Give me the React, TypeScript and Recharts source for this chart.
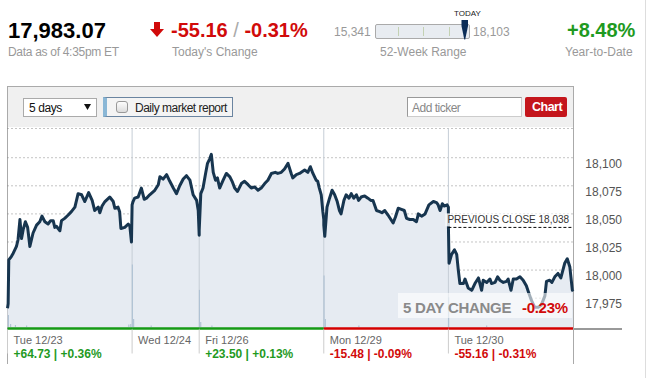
import { ComposedChart, Area, Line, Bar, XAxis, YAxis, CartesianGrid, ReferenceLine } from 'recharts';

const FONT = 'Arial, "Liberation Sans", Helvetica, sans-serif';
const GREEN = '#1f9a1f';
const RED = '#d10a0a';
const GREY = '#999';

// session days (minutes of trading per day)
const dayLabels = ['Tue 12/23', 'Wed 12/24', 'Fri 12/26', 'Mon 12/29', 'Tue 12/30'];
const dayChanges = ['+64.73 | +0.36%', '', '+23.50 | +0.13%', '-15.48 | -0.09%', '-55.16 | -0.31%'];
const dayUp = [true, true, true, false, false];
const dayMinutes = [390, 210, 390, 390, 390];

const priceTicks = [17975, 18000, 18025, 18050, 18075, 18100];
const priceDomain: [number, number] = [17948, 18126];
const previousClose = 18038;

// [minutes after open, index level]
const tue1223: [number, number][] = [
  [0, 17966], [2, 17970], [4, 18009], [12, 18012], [18, 18015], [28, 18021], [33, 18027], [39, 18045],
  [44, 18028], [49, 18036], [56, 18043], [63, 18038], [70, 18021], [80, 18033], [91, 18040], [101, 18043],
  [108, 18048], [117, 18043], [127, 18041], [135, 18044], [143, 18044], [148, 18038], [153, 18039], [164, 18035],
  [169, 18044], [179, 18046], [190, 18049], [200, 18052], [211, 18056], [221, 18068], [232, 18067], [242, 18061],
  [254, 18069], [265, 18062], [273, 18053], [284, 18056], [289, 18051], [296, 18057], [305, 18061], [320, 18065],
  [331, 18061], [336, 18055], [346, 18056], [351, 18052], [355, 18037], [367, 18038], [378, 18041], [383, 18039],
  [388, 18025],
];
const wed1224: [number, number][] = [
  [0, 18058], [3, 18061], [8, 18064], [19, 18065], [29, 18073], [38, 18063], [45, 18064], [55, 18067],
  [71, 18071], [82, 18076], [87, 18083], [97, 18081], [108, 18085], [118, 18079], [129, 18073], [139, 18068],
  [149, 18075], [160, 18081], [170, 18084], [181, 18080], [191, 18067], [202, 18062], [207, 18053], [210, 18031],
];
const fri1226: [number, number][] = [
  [0, 18035], [5, 18068], [12, 18073], [20, 18086], [26, 18095], [33, 18099], [38, 18103], [44, 18087],
  [51, 18080], [57, 18082], [64, 18073], [75, 18080], [85, 18086], [96, 18083], [103, 18079], [111, 18073],
  [120, 18070], [132, 18077], [142, 18079], [153, 18076], [163, 18073], [174, 18074], [184, 18071], [194, 18073],
  [205, 18077], [215, 18080], [226, 18086], [238, 18087], [246, 18086], [257, 18087], [267, 18090], [278, 18095],
  [288, 18086], [293, 18082], [304, 18085], [314, 18086], [330, 18089], [340, 18087], [348, 18092], [356, 18086],
  [366, 18080], [371, 18079], [376, 18073], [382, 18067], [387, 18052], [390, 18045],
];
const mon1229: [number, number][] = [
  [0, 18040], [3, 18030], [10, 18056], [18, 18064], [26, 18071], [34, 18067], [42, 18061], [49, 18053],
  [54, 18050], [63, 18062], [70, 18067], [79, 18064], [86, 18068], [94, 18064], [102, 18067], [109, 18062],
  [117, 18065], [128, 18066], [138, 18064], [147, 18062], [154, 18062], [159, 18058], [165, 18053], [175, 18052],
  [182, 18051], [191, 18053], [201, 18049], [210, 18045], [217, 18042], [224, 18047], [233, 18055], [243, 18054],
  [252, 18053], [259, 18046], [269, 18045], [280, 18045], [290, 18043], [296, 18050], [306, 18048], [317, 18050],
  [329, 18058], [343, 18061], [353, 18060], [358, 18058], [364, 18053], [371, 18059], [377, 18057], [386, 18058],
  [390, 18056],
];
const tue1230: [number, number][] = [
  [0, 18040], [2, 18006], [10, 18014], [19, 18018], [26, 18014], [31, 18000], [36, 17988], [47, 17988],
  [52, 17992], [62, 17984], [73, 17982], [83, 17988], [94, 17993], [104, 17982], [109, 17991], [120, 17989],
  [130, 17992], [135, 17988], [146, 17989], [154, 17994], [161, 17991], [172, 17989], [182, 17990], [187, 17992],
  [196, 17982], [203, 17992], [213, 17992], [224, 17994], [234, 17991], [244, 17986], [250, 17981], [260, 17973],
  [270, 17967], [281, 17967], [291, 17969], [302, 17977], [307, 17990], [317, 17991], [324, 17989], [333, 17994],
  [343, 17997], [352, 17993], [364, 18006], [372, 18010], [380, 18003], [388, 17982], [390, 17983],
];
const dayPrices = [tue1223, wed1224, fri1226, mon1229, tue1230];

// [session minute, volume]
const volumeBars: [number, number][] = [
  [3, 6], [10, 1.5], [25, 1], [60, 0.8], [380, 1.2], [386, 1.5], [391, 31.5], [395, 4], [450, 0.8],
  [601, 18.7], [605, 2.5], [640, 0.8], [991, 26], [995, 4], [1100, 0.8], [1381, 15], [1500, 0.8],
];

const dayStarts = dayMinutes.map((_, i) => dayMinutes.slice(0, i).reduce((a, b) => a + b, 0));
const sessionEnd = dayMinutes.reduce((a, b) => a + b, 0);

const priceData = dayPrices.flatMap((day, i) => day.map(([m, p]) => ({ t: dayStarts[i] + m, price: p })));
const volumeData = volumeBars.map(([t, v]) => ({ t, vol: v }));

const CHART_W = 647;
const CHART_H = 245;
const MARGIN = { top: 8.5, right: 14, bottom: 0, left: 7.5 };

const PriceTick = ({ y, payload }: any) => (
  <text x={622} y={y + 10} textAnchor="end" fontSize={12} fill="#555" fontFamily={FONT}>
    {payload.value.toLocaleString('en-US')}
  </text>
);

const DayTick = ({ x, y, payload }: any) => {
  const i = dayStarts.indexOf(payload.value);
  if (i < 0) return null;
  return (
    <g fontFamily={FONT}>
      <line x1={x} x2={x} y1={y + 1} y2={y + 25} stroke="#ccc" />
      <text x={x + 6} y={y + 15} fontSize={11} fill="#666">{dayLabels[i]}</text>
      <text x={x + 6} y={y + 29.5} fontSize={12} fontWeight="bold" fill={dayUp[i] ? GREEN : RED}>
        {dayChanges[i]}
      </text>
    </g>
  );
};

const PrevCloseLabel = ({ viewBox }: any) => {
  if (!viewBox) return null;
  const { x, y, width } = viewBox;
  return (
    <g>
      <rect x={x - 3} y={y - 14} width={width} height={13} fill="#fff" fillOpacity={0.8} />
      <text x={x - 1} y={y - 4} fontSize={10} fill="#333" fontFamily={FONT}>
        {`PREVIOUS CLOSE ${previousClose.toLocaleString('en-US')}`}
      </text>
    </g>
  );
};

const txt = (left: number, top: number, size: number, color: string, extra: any = {}) => ({
  position: 'absolute' as const,
  left,
  top,
  fontSize: size,
  color,
  lineHeight: 1,
  whiteSpace: 'nowrap' as const,
  ...extra,
});

export default function App() {
  return (
    <div style={{ position: 'absolute', left: 0, top: 0, width: 647, height: 378, background: '#fff', fontFamily: FONT, overflow: 'hidden' }}>
      {/* header */}
      <div style={txt(8, 20.4, 22, '#000', { fontWeight: 'bold' })}>17,983.07</div>
      <div style={txt(8, 45.5, 12, GREY, { letterSpacing: -0.3 })}>Data as of 4:35pm ET</div>
      <svg style={{ position: 'absolute', left: 150, top: 22 }} width={14} height={16}>
        <polygon points="4,0 10,0 10,7 14,7 7,15 0,7 4,7" fill={RED} />
      </svg>
      <div style={txt(171, 19.8, 20, RED, { fontWeight: 'bold' })}>
        -55.16<span style={{ color: '#aaa', fontWeight: 'normal' }}> / </span>-0.31%
      </div>
      <div style={txt(172, 45.5, 12, GREY)}>Today's Change</div>

      <div style={txt(454, 9.7, 8, '#222')}>TODAY</div>
      <div style={txt(334, 25.5, 12, GREY)}>15,341</div>
      <div style={{ position: 'absolute', left: 375, top: 24, width: 95, height: 15, boxSizing: 'border-box', border: '1px solid #aaa', borderRadius: 2, background: '#e8ecf1' }} />
      {[398, 423, 449].map((l) => (
        <div key={l} style={{ position: 'absolute', left: l, top: 27, width: 1, height: 9, background: '#c3d1b3' }} />
      ))}
      <svg style={{ position: 'absolute', left: 461, top: 20 }} width={8} height={20}>
        <polygon points="0.5,0 7,0 7,6 4.2,19.5 3.3,19.5 0.5,6" fill="#0c2d57" />
      </svg>
      <div style={txt(473, 25.5, 12, GREY)}>18,103</div>
      <div style={txt(380, 45.5, 12, GREY)}>52-Week Range</div>

      <div style={txt(567, 20.4, 20, GREEN, { fontWeight: 'bold' })}>+8.48%</div>
      <div style={txt(565, 45.5, 12, GREY)}>Year-to-Date</div>
      <div style={{ position: 'absolute', left: 645, top: 0, width: 1, height: 378, background: '#ddd' }} />

      {/* panel */}
      <div style={{ position: 'absolute', left: 7, top: 86, width: 567, height: 278, boxSizing: 'border-box', border: '1px solid #aaa', borderBottom: 'none' }} />
      <div style={{ position: 'absolute', left: 8, top: 87, width: 565, height: 40, background: '#f0f0f0' }} />
      <div style={{ position: 'absolute', left: 23, top: 98, width: 74, height: 19, boxSizing: 'border-box', border: '1px solid #aaa', background: '#fff' }}>
        <span style={txt(5, 3, 12, '#111', { letterSpacing: -0.4 })}>5 days</span>
        <svg style={{ position: 'absolute', left: 60, top: 5 }} width={7} height={7}>
          <polygon points="0,0 7,0 3.5,6" fill="#111" />
        </svg>
      </div>
      <div style={{ position: 'absolute', left: 103, top: 97, width: 130, height: 20, boxSizing: 'border-box', border: '1px solid #6a84a0', borderLeft: '4px solid #8ab7d6', background: '#f4f4f4' }}>
        <div style={{ position: 'absolute', left: 9, top: 3, width: 12, height: 12, boxSizing: 'border-box', border: '1px solid #999', borderRadius: 3, background: 'linear-gradient(#fdfdfd, #dcdcdc)' }} />
        <span style={txt(28, 4, 12, '#222', { letterSpacing: -0.5 })}>Daily market report</span>
      </div>
      <div style={{ position: 'absolute', left: 407, top: 97, width: 115, height: 20, boxSizing: 'border-box', border: '1px solid #999', borderRightColor: '#ccc', borderBottomColor: '#ccc', background: '#fff' }}>
        <span style={txt(4, 4, 12, '#888', { letterSpacing: -0.5 })}>Add ticker</span>
      </div>
      <div style={{ position: 'absolute', left: 525, top: 97, width: 42, height: 20, borderRadius: 2, background: '#c4161c' }}>
        <span style={txt(7, 3.5, 12.5, '#fff', { fontWeight: 'bold', letterSpacing: -0.5 })}>Chart</span>
      </div>

      {/* price chart */}
      <div style={{ position: 'absolute', left: 0, top: 120 }}>
        <ComposedChart width={CHART_W} height={CHART_H} data={priceData} margin={MARGIN}>
          <CartesianGrid yAxisId="price" horizontal vertical={false} stroke="#888" strokeDasharray="1 3" />
          <XAxis
            dataKey="t"
            type="number"
            domain={[0, sessionEnd]}
            ticks={dayStarts}
            interval={0}
            axisLine={false}
            tickLine={false}
            tickSize={0}
            tickMargin={0}
            height={36.5}
            tick={<DayTick />}
          />
          <YAxis
            yAxisId="price"
            orientation="right"
            width={60}
            domain={priceDomain}
            allowDataOverflow
            ticks={priceTicks}
            axisLine={false}
            tickLine={false}
            tick={<PriceTick />}
          />
          <Area
            yAxisId="price"
            type="linear"
            dataKey="price"
            stroke="none"
            fill="#e6ebf2"
            fillOpacity={1}
            isAnimationActive={false}
          />
          {dayStarts.slice(1).map((s) => (
            <ReferenceLine key={s} yAxisId="price" x={s} stroke="#c5cdd6" />
          ))}
          <Line
            yAxisId="price"
            type="linear"
            dataKey="price"
            stroke="#17354f"
            strokeWidth={3}
            strokeLinejoin="round"
            dot={false}
            isAnimationActive={false}
          />
          <ReferenceLine
            yAxisId="price"
            segment={[{ x: dayStarts[4], y: previousClose }, { x: sessionEnd, y: previousClose }]}
            stroke="#000"
            strokeDasharray="3 2"
            label={<PrevCloseLabel />}
          />
          {dayStarts.map((s, i) => (
            <ReferenceLine
              key={`b${s}`}
              yAxisId="price"
              segment={[{ x: s, y: priceDomain[0] }, { x: s + dayMinutes[i], y: priceDomain[0] }]}
              stroke={dayUp[i] ? '#159a15' : '#d40000'}
              strokeWidth={2.5}
            />
          ))}
        </ComposedChart>
      </div>

      {/* volume overlay */}
      <div style={{ position: 'absolute', left: 0, top: 120, pointerEvents: 'none' }}>
        <ComposedChart
          width={CHART_W}
          height={CHART_H}
          data={volumeData}
          margin={{ top: MARGIN.top, right: MARGIN.right + 60, bottom: 36.5 + 1.5, left: MARGIN.left }}
        >
          <XAxis dataKey="t" type="number" domain={[0, sessionEnd]} hide />
          <YAxis domain={[0, 100]} hide />
          <Bar dataKey="vol" fill="#b0c2d4" barSize={2} isAnimationActive={false} />
        </ComposedChart>
      </div>
      <div style={{ position: 'absolute', left: 574, top: 327.5, width: 48, height: 2, background: '#999' }} />

      {/* 5 day change box */}
      <div style={{ position: 'absolute', left: 398, top: 293, width: 174, height: 25, background: 'rgba(255,255,255,0.6)' }}>
        <span style={txt(5, 7, 15, '#8a8a8a', { fontWeight: 'bold', letterSpacing: -0.3 })}>5 DAY CHANGE</span>
        <span style={txt(124, 7, 15, RED, { fontWeight: 'bold', letterSpacing: -0.3 })}>-0.23%</span>
      </div>
    </div>
  );
}
